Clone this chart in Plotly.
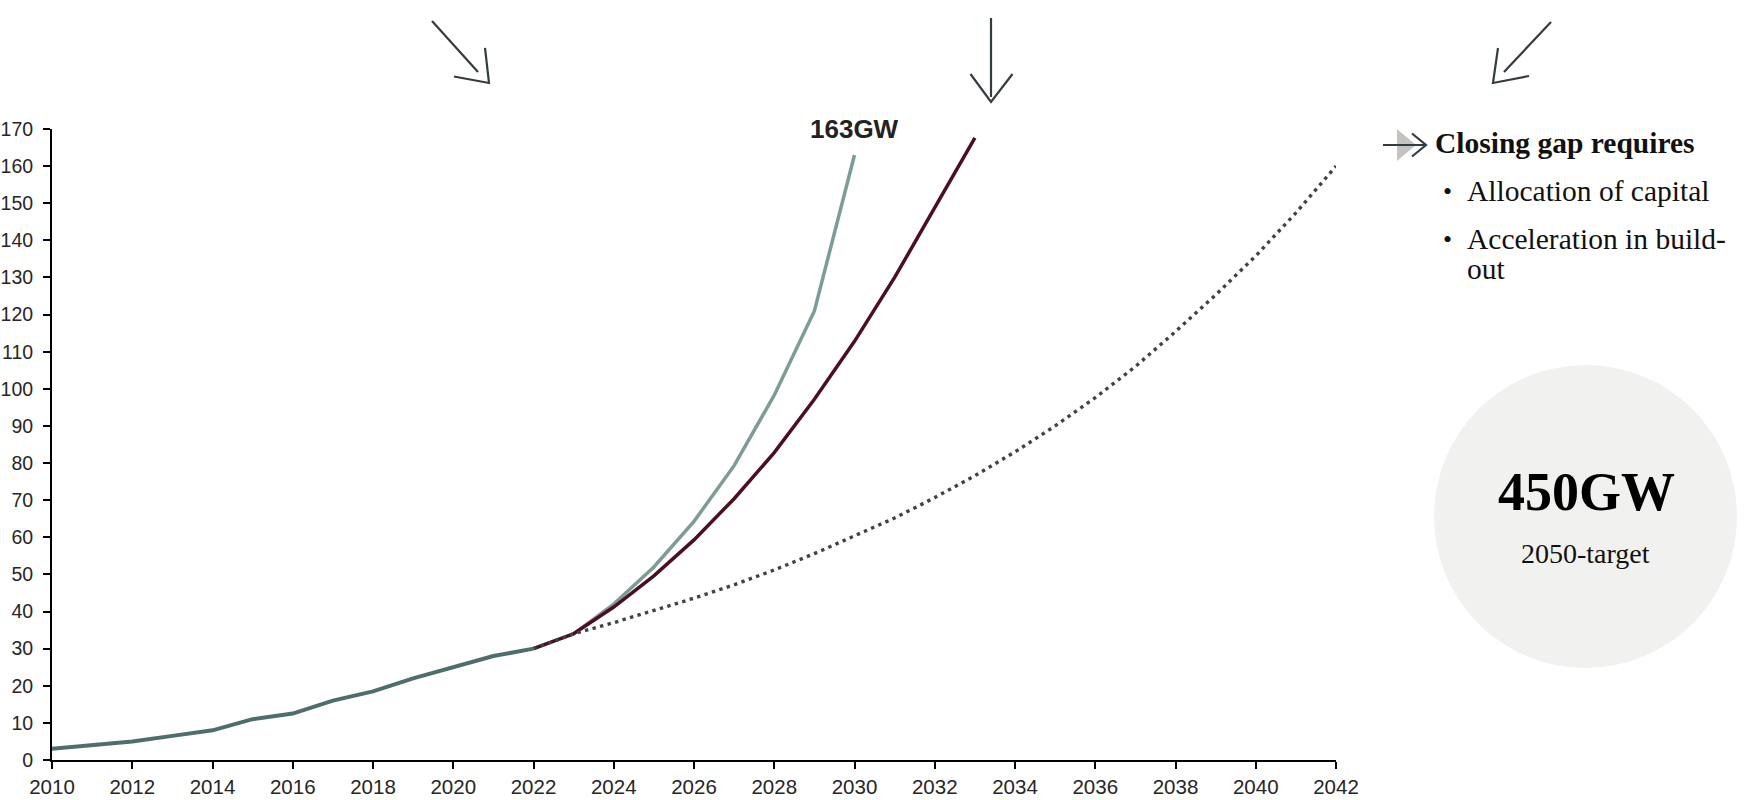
import plotly.graph_objects as go

# ---------------- data ----------------
hist_years = [2010, 2011, 2012, 2013, 2014, 2015, 2016, 2017, 2018, 2019, 2020, 2021, 2022]
hist_gw = [3, 4, 5, 6.5, 8, 11, 12.5, 16, 18.5, 22, 25, 28, 30]

fast_years = [2022, 2023, 2024, 2025, 2026, 2027, 2028, 2029, 2030]
fast_gw = [30, 34, 42, 52, 64.3, 79.3, 98.3, 121, 163]

mid_years = [2022, 2023, 2024, 2025, 2026, 2027, 2028, 2029, 2030, 2031, 2032, 2033]
mid_gw = [30, 34, 41.2, 49.6, 59.3, 70.4, 82.8, 97.2, 112.8, 130, 148.8, 167.6]

slow_years = [2022, 2023, 2024, 2025, 2026, 2027, 2028, 2029, 2030, 2031, 2032, 2033,
              2034, 2035, 2036, 2037, 2038, 2039, 2040, 2041, 2042]
slow_gw = [30, 34, 37, 40.2, 43.6, 47.2, 51.2, 55.6, 60.3, 65.2, 70.7, 76.6,
           83, 90, 97.6, 106, 115.4, 125.3, 135.8, 147.4, 160]

x_ticks = list(range(2010, 2043, 2))
y_ticks = list(range(0, 171, 10))

label_peak = "163GW"
side_title = "Closing gap requires"
side_bullets = ["Allocation of capital", "Acceleration in build-", "out"]
circle_big = "450GW"
circle_small = "2050-target"

# ---------------- layout geometry ----------------
W, H = 1749, 800
ML, MR, MT, MB = 52, 413, 129, 40
PW, PH = W - ML - MR, H - MT - MB


def px(x):
    return (x - ML) / PW


def py(y):
    return (H - MB - y) / PH


fig = go.Figure()

fig.add_trace(go.Scatter(x=fast_years, y=fast_gw, mode="lines",
                         line=dict(color="#7d9c98", width=3.5), hoverinfo="skip"))
fig.add_trace(go.Scatter(x=mid_years, y=mid_gw, mode="lines",
                         line=dict(color="#4b0f1f", width=3.5), hoverinfo="skip"))
fig.add_trace(go.Scatter(x=slow_years, y=slow_gw, mode="lines",
                         line=dict(color="#404244", width=3.4, dash="3.4px,4.4px"), hoverinfo="skip"))
fig.add_trace(go.Scatter(x=hist_years, y=hist_gw, mode="lines",
                         line=dict(color="#4e6e6b", width=4), hoverinfo="skip"))

shapes = []
ARROW = "#333c40"


def seg(pts, color=ARROW, width=2.2):
    d = "M " + " L ".join(f"{px(a):.5f},{py(b):.5f}" for a, b in pts)
    shapes.append(dict(type="path", path=d, xref="paper", yref="paper",
                       line=dict(color=color, width=width), layer="above"))


# circle
shapes.append(dict(type="circle", xref="paper", yref="paper",
                   x0=px(1434), x1=px(1737), y0=py(668), y1=py(365),
                   fillcolor="#f1f1f0", line=dict(width=0), layer="below"))

# gray triangle behind small arrow
shapes.append(dict(type="path", xref="paper", yref="paper",
                   path=f"M {px(1397):.5f},{py(129):.5f} L {px(1416):.5f},{py(145):.5f} L {px(1397):.5f},{py(161):.5f} Z",
                   fillcolor="#c4c3bf", line=dict(width=0), layer="above"))

# arrow 1 (down-right)
seg([(432, 21), (478, 72)])
seg([(454, 76.5), (489, 83), (485, 48)])
# arrow 2 (down)
seg([(991, 18), (991, 97)])
seg([(970.5, 74), (991, 102), (1012.5, 74)])
# arrow 3 (down-left)
seg([(1551, 22), (1504, 72)])
seg([(1529, 76), (1493, 83), (1498, 48)])
# small arrow at text
seg([(1383, 145), (1426, 145)])
seg([(1412, 133.5), (1426, 145), (1412, 156.5)])

ann = []
SERIF = "Liberation Serif, Times New Roman, serif"
ann.append(dict(x=2030, y=170, xref="x", yref="y", text=f"<b>{label_peak}</b>", showarrow=False,
                xanchor="center", yanchor="middle",
                font=dict(family="Liberation Sans, Arial, sans-serif", size=26, color="#222222")))
ann.append(dict(x=px(1433), y=py(143), xref="paper", yref="paper", text=f"<b>{side_title}</b>",
                showarrow=False, xanchor="left", yanchor="middle",
                font=dict(family=SERIF, size=29.5, color="#111111")))
for txt, yy, bullet in [(side_bullets[0], 191.5, True), (side_bullets[1], 239, True), (side_bullets[2], 269, False)]:
    if bullet:
        ann.append(dict(x=px(1441), y=py(yy), xref="paper", yref="paper", text="•",
                        showarrow=False, xanchor="left", yanchor="middle",
                        font=dict(family=SERIF, size=26, color="#111111")))
    ann.append(dict(x=px(1465), y=py(yy), xref="paper", yref="paper", text=txt,
                    showarrow=False, xanchor="left", yanchor="middle",
                    font=dict(family=SERIF, size=29.5, color="#111111")))
ann.append(dict(x=px(1586), y=py(492), xref="paper", yref="paper", text=f"<b>{circle_big}</b>",
                showarrow=False, xanchor="center", yanchor="middle",
                font=dict(family=SERIF, size=54, color="#000000")))
ann.append(dict(x=px(1585), y=py(553), xref="paper", yref="paper", text=circle_small,
                showarrow=False, xanchor="center", yanchor="middle",
                font=dict(family=SERIF, size=28, color="#111111")))

fig.update_layout(
    width=W, height=H,
    margin=dict(l=ML, r=MR, t=MT, b=MB, pad=0, autoexpand=False),
    paper_bgcolor="white", plot_bgcolor="white",
    showlegend=False,
    shapes=shapes, annotations=ann,
    font=dict(family="Liberation Sans, Arial, sans-serif", size=20.5, color="#262626"),
)
fig.update_xaxes(range=[2010, 2042], tickmode="array", tickvals=x_ticks,
                 ticktext=[str(t) for t in x_ticks],
                 showline=True, linecolor="black", linewidth=2,
                 ticks="outside", ticklen=7, tickwidth=2, tickcolor="black",
                 ticklabelstandoff=0, automargin=False,
                 showgrid=False, zeroline=False, fixedrange=True)
fig.update_yaxes(range=[0, 170], tickmode="array", tickvals=y_ticks,
                 ticktext=[str(t) for t in y_ticks],
                 tickfont=dict(size=19.5),
                 showline=True, linecolor="black", linewidth=2,
                 ticks="outside", ticklen=7, tickwidth=2, tickcolor="black",
                 ticklabelstandoff=6, automargin=False,
                 showgrid=False, zeroline=False, fixedrange=True)

fig.write_html("out.html", config={"displayModeBar": False})
